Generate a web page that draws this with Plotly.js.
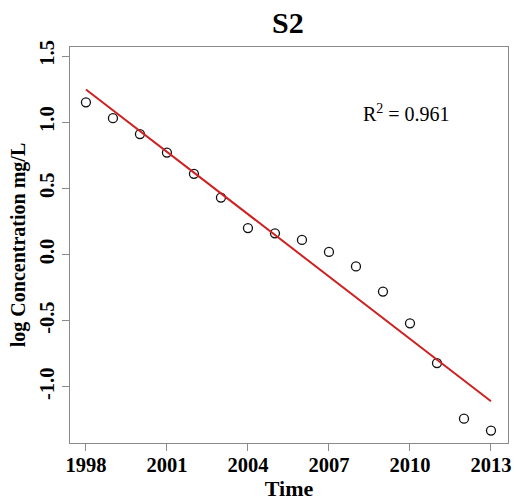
<!DOCTYPE html>
<html>
<head>
<meta charset="utf-8">
<script src="https://cdn.plot.ly/plotly-3.0.1.min.js"></script>
<style>html,body{margin:0;padding:0;background:#fff}#chart{width:516px;height:501px}</style>
</head>
<body>
<div id="chart"></div>
<script>
const years = [1998,1999,2000,2001,2002,2003,2004,2005,2006,2007,2008,2009,2010,2011,2012,2013];
const logConc = [1.15,1.03,0.91,0.77,0.61,0.43,0.20,0.16,0.11,0.02,-0.09,-0.28,-0.52,-0.82,-1.24,-1.33];
const xTicks = [1998,2001,2004,2007,2010,2013];
const yTicks = [-1.0,-0.5,0.0,0.5,1.0,1.5];
const yTickLabels = ["-1.0","-0.5","0.0","0.5","1.0","1.5"];
const r2Label = "R<sup>2</sup> = 0.961";

// least squares fit
const n = years.length;
const mx = years.reduce((a,b)=>a+b,0)/n;
const my = logConc.reduce((a,b)=>a+b,0)/n;
let sxy=0, sxx=0;
for (let i=0;i<n;i++){ sxy += (years[i]-mx)*(logConc[i]-my); sxx += (years[i]-mx)**2; }
const slope = sxy/sxx, intercept = my - slope*mx;
const fitX = [years[0], years[n-1]];
const fitY = fitX.map(x => intercept + slope*x);

const serif = "Liberation Serif, Times New Roman, serif";
const data = [
  {x: years, y: logConc, type:'scatter', mode:'markers',
   marker:{symbol:'circle-open', size:9, color:'#111', line:{width:1.3, color:'#111'}}, hoverinfo:'none'},
  {x: fitX, y: fitY, type:'scatter', mode:'lines', line:{color:'#cc2222', width:2}, hoverinfo:'none'}
];
const axisCommon = {showgrid:false, zeroline:false, showline:true, mirror:true, linecolor:'#8a8a8a', linewidth:1,
  ticks:'outside', ticklen:7, tickcolor:'#8a8a8a', tickwidth:1};
const layout = {
  width:516, height:501, showlegend:false,
  paper_bgcolor:'#fff', plot_bgcolor:'#fff',
  margin:{l:70, r:8, t:47, b:58},
  title:{text:'<b>S2</b>', font:{family:serif, size:30, color:'#000'}, x:0.558, xanchor:'center', y:0.956, yanchor:'middle'},
  xaxis:Object.assign({}, axisCommon, {range:[1997.41, 2013.63], tickvals:xTicks, ticktext:xTicks.map(String),
    ticklabelstandoff:-4,
    tickfont:{family:serif, size:20.5, color:'#000', weight:'bold'},
    title:{text:'<b>Time</b>', font:{family:serif, size:22, color:'#000'}, standoff:0}}),
  yaxis:Object.assign({}, axisCommon, {range:[-1.424, 1.568], tickvals:yTicks, ticktext:yTickLabels, tickangle:-90,
    tickfont:{family:serif, size:20.5, color:'#000', weight:'bold'},
    title:{text:'<b>log Concentration mg/L</b>', font:{family:serif, size:20, color:'#000'}, standoff:4}}),
  annotations:[{x:2008.2, y:1.068, xref:'x', yref:'y', text:r2Label, showarrow:false, xanchor:'left', yanchor:'middle',
    font:{family:serif, size:20, color:'#000'}}]
};
Plotly.newPlot('chart', data, layout, {displayModeBar:false, staticPlot:true});
</script>
</body>
</html>
